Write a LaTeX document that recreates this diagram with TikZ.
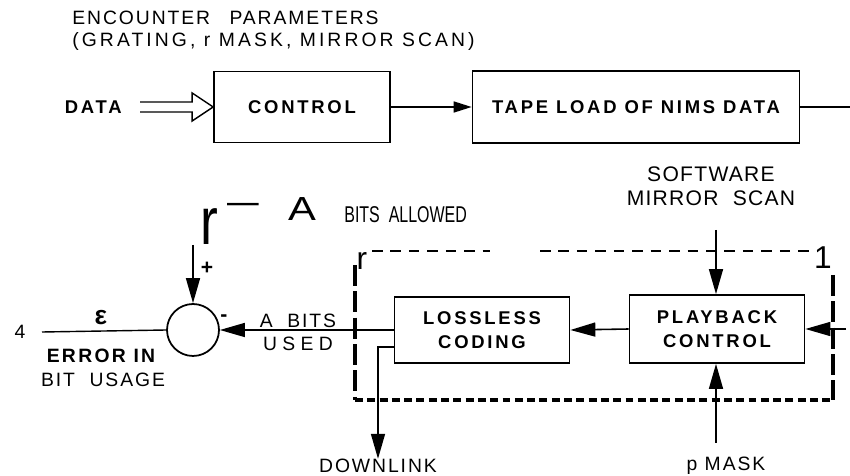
\documentclass[tikz,border=0pt]{standalone}
\usepackage{fontspec}
\setmainfont{Liberation Sans}
\usetikzlibrary{arrows.meta}

\tikzset{
  block/.style={draw, line width=1pt, align=center, inner sep=0pt,
    font=\bfseries\fontsize{10.5}{14}\selectfont\addfontfeature{LetterSpace=15}},
  lbl/.style={align=center, inner sep=0pt,
    font=\fontsize{11}{13}\selectfont\addfontfeature{LetterSpace=10}},
  bigglyph/.style={inner sep=0pt, font=\fontsize{#1}{#1}\selectfont},
  boldglyph/.style={inner sep=0pt, font=\bfseries\fontsize{#1}{#1}\selectfont},
  flow/.style={line width=0.9pt, -{Triangle[length=0.5cm,width=0.28cm]}},
}

\begin{document}
\begin{tikzpicture}[x=0.02cm,y=-0.02cm]
\useasboundingbox (0,0) rectangle (850,476);

          % Upper chain
          \node[lbl, anchor=west] (encounter) at (72,18) {ENCOUNTER\quad PARAMETERS};
          \node[lbl, anchor=west, font=\fontsize{11}{13}\selectfont\addfontfeature{LetterSpace=16}] (encparams) at (72,42) {(GRATING, r MASK, MIRROR SCAN)};
          \node[block, draw=none, anchor=west] (data) at (64,107) {DATA};
          \node[block, minimum width=3.52cm, minimum height=1.42cm] (control) at (302,107) {CONTROL};
          \node[block, minimum width=6.54cm, minimum height=1.44cm] (tape) at (636,107) {TAPE LOAD OF NIMS DATA};
          \coordinate (tapeout) at (850,107);
          \draw[line width=0.8pt] (control.west) -- ++(-21,-14) -- ++(0,9) -- ++(-52,0);
          \draw[line width=0.8pt] (control.west) -- ++(-21,14) -- ++(0,-9) -- ++(-52,0);
          \draw[flow, -{Triangle[length=0.36cm,width=0.22cm]}] (control.east) -- (tape.west);
          \draw[line width=0.8pt] (tape.east) -- (tapeout);

          % Dashed frame
          \draw[line width=0.8pt, dash pattern=on 6pt off 4.5pt] (372,251) -- (490,251);
          \draw[line width=0.8pt, dash pattern=on 6pt off 4.5pt] (540,251) -- (818,251);
          \draw[line width=1.8pt, dash pattern=on 12pt off 3pt] (355,265) -- (355,400);
          \draw[line width=1.8pt, dash pattern=on 12pt off 3pt] (833,275) -- (833,400);
          \draw[line width=1.8pt, dash pattern=on 4.5pt off 2.5pt] (355,400) -- (833,400);
          \node[bigglyph=18] (cornerl) at (362,261) {r};
          \node[bigglyph=18] (cornerr) at (823,258) {1};

          % Playback loop
          \node[block, minimum width=3.5cm, minimum height=1.36cm] (playback) at (717,329) {PLAYBACK\\CONTROL};
          \node[block, minimum width=3.5cm, minimum height=1.32cm] (lossless) at (482,330) {LOSSLESS\\CODING};
          \node[draw, circle, line width=1pt, minimum size=1.04cm] (sum) at (193,330) {};
          \node[lbl, font=\fontsize{12}{13.5}\selectfont\addfontfeature{LetterSpace=6}] (software) at (711,186) {SOFTWARE\\MIRROR\ \ SCAN};
          \node[lbl] (pmask) at (726,466) {p MASK};
          \node[lbl] (downlink) at (378,466) {DOWNLINK};
          \coordinate (scanin) at (716,230);
          \coordinate (maskin) at (716,443);
          \coordinate (playin) at (846,329);
          \draw[flow] (scanin) -- (scanin |- playback.north);
          \draw[flow] (maskin) -- (maskin |- playback.south);
          \draw[flow] (playin) -- (playback.east);
          \draw[flow] (playback.west) -- (lossless.east);
          \draw[flow] ([yshift=-0.34cm]lossless.west) -| (downlink.north);
          \draw[flow] (lossless.west) -- (sum.east);

          % Bits allowed / error
          \node[bigglyph=38] (hook) at (209,227) {\scalebox{0.8}[1]{r}};
          \node[bigglyph=20] (dash) at (243,208) {\scalebox{0.9}[1]{—}};
          \node[bigglyph=19] (bigA) at (302,209) {\scalebox{1.25}[1]{A}};
          \node[bigglyph=13, anchor=west] (allowed) at (344,215) {\scalebox{0.7}[1]{BITS\ \ ALLOWED}};
          \coordinate (allowin) at (193,245);
          \draw[flow] (allowin) -- (sum.north);
          \node[boldglyph=12] (plus) at (207,268) {+};
          \node[boldglyph=12] (minus) at (224,318) {-};
          \node[lbl] (used) at (298,332) {A\ \ BITS\\{\addfontfeature{LetterSpace=28}USED}};
          \node[lbl] (four) at (20,332) {4};
          \node[boldglyph=15] (eps) at (101,318) {ε};
          \node[lbl, font=\bfseries\fontsize{11}{13}\selectfont\addfontfeature{LetterSpace=12}] (errorin) at (101,356) {ERROR IN};
          \node[lbl] (bitusage) at (103,380) {BIT\ \ USAGE};
          \coordinate (epsout) at (42,332);
          \draw[line width=0.8pt] (epsout) -- (sum.west);
        \end{tikzpicture}
\end{document}
